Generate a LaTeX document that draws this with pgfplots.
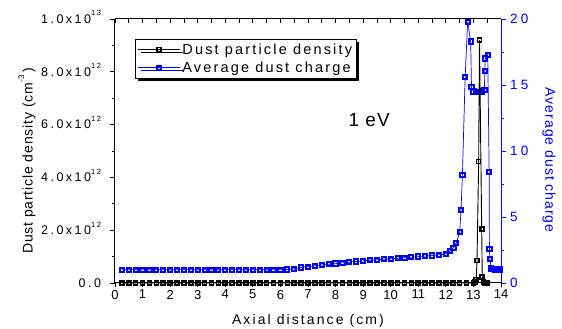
\documentclass[border=0pt]{standalone}
\usepackage{fontspec}
\setmainfont{Liberation Sans}
\usepackage{pgfplots}
\pgfplotsset{compat=1.18}
\usetikzlibrary{shadows}
\definecolor{oblue}{RGB}{0,0,255}
\newcommand{\fs}[2]{\fontsize{#1}{#1}\selectfont\addfontfeatures{LetterSpace=#2}}
\newcommand{\sci}[2]{#1x10\raisebox{0.6em}[0pt][0pt]{\fontsize{7.5}{7.5}\selectfont #2}}
\pgfplotstableread{
x y
0.25 1.0
0.5 1.0
0.75 1.0
1.0 1.0
1.25 1.0
1.5 1.0
1.75 1.0
2.0 1.0
2.25 1.0
2.5 1.0
2.75 1.0
3.0 1.0
3.25 1.0
3.5 1.0
3.75 1.0
4.0 1.0
4.25 1.0
4.5 1.0
4.75 1.0
5.0 1.0
5.25 1.0
5.5 1.0
5.75 1.0
6.0 1.0
6.25 1.03
6.5 1.08
6.75 1.17
7.0 1.24
7.25 1.30
7.5 1.36
7.75 1.42
8.0 1.47
8.25 1.53
8.5 1.58
8.75 1.63
9.0 1.68
9.25 1.72
9.5 1.76
9.75 1.80
10.0 1.84
10.25 1.88
10.5 1.92
10.75 1.96
11.0 2.00
11.25 2.04
11.5 2.08
11.75 2.14
12.0 2.22
12.15 2.42
12.28 2.68
12.38 3.05
12.5 3.85
12.55 5.5
12.6 8.2
12.7 15.6
12.79 19.8
12.9 18.3
12.93 14.85
13.0 14.5
13.08 14.45
13.16 14.45
13.24 14.45
13.32 14.5
13.4 14.6
13.41 16.05
13.43 17.0
13.52 17.3
13.57 8.4
13.58 2.55
13.6 1.84
13.64 1.1
13.72 1.05
13.8 1.03
13.88 1.02
13.95 1.02
}\chargetable
\pgfplotstableread{
x y
0.25 0
0.5 0
0.75 0
1.0 0
1.25 0
1.5 0
1.75 0
2.0 0
2.25 0
2.5 0
2.75 0
3.0 0
3.25 0
3.5 0
3.75 0
4.0 0
4.25 0
4.5 0
4.75 0
5.0 0
5.25 0
5.5 0
5.75 0
6.0 0
6.25 0
6.5 0
6.75 0
7.0 0
7.25 0
7.5 0
7.75 0
8.0 0
8.25 0
8.5 0
8.75 0
9.0 0
9.25 0
9.5 0
9.75 0
10.0 0
10.25 0
10.5 0
10.75 0
11.0 0
11.25 0
11.5 0
11.75 0
12.0 0
12.25 0
12.5 0
12.75 0
13.0 0
13.06 0.03e12
13.1 0.14e12
13.13 0.85e12
13.19 4.6e12
13.22 9.2e12
13.3 2.05e12
13.32 0.22e12
13.36 0.03e12
13.42 0
13.5 0
}\densitytable
\begin{document}
\begin{tikzpicture}
\pgfplotsset{
  common/.style={scale only axis, width=386pt, height=264pt, xmin=0, xmax=14,
    at={(0pt,0pt)}, anchor=south west,
    /pgf/number format/assume math mode=true,
    major tick length=4.5pt, minor tick length=2.5pt},
}
% right (blue) axis
\begin{axis}[common,
  axis y line*=right, axis x line=none,
  ymin=0, ymax=20, ytick={0,5,10,15,20}, minor ytick={2.5,7.5,12.5,17.5},
  tick align=outside,
  y axis line style={oblue, line width=1pt},
  tick style={oblue, line width=0.8pt},
  yticklabel style={text=oblue, font=\fs{13.5}{25}, xshift=1pt},
]
\addplot[oblue, line width=0.7pt, mark=square, mark size=2.1pt,
  mark options={line width=2pt, fill=white, solid}] table[x=x,y=y] {\chargetable};
\end{axis}
% top axis ticks
\begin{axis}[common, axis x line*=top, axis y line=none, ymin=0, ymax=1,
  xtick={0,0.5,...,14}, xticklabels={}, tick align=inside,
  x axis line style={black, line width=1pt},
  tick style={black, line width=0.8pt}]
\end{axis}
% left (black) axis
\begin{axis}[common, clip=false,
  axis x line*=bottom, axis y line*=left, tick align=outside,
  ymin=0, ymax=1e13, scaled y ticks=false,
  axis line style={black, line width=1pt},
  tick style={black, line width=0.8pt},
  xtick={0,...,14},
  ytick={0,2e12,4e12,6e12,8e12,1e13},
  minor ytick={1e12,3e12,5e12,7e12,9e12},
  yticklabels={0.0,\sci{2.0}{12},\sci{4.0}{12},\sci{6.0}{12},\sci{8.0}{12},\sci{1.0}{13}},
  xticklabel style={font=\fs{13}{0}, yshift=1pt},
  yticklabel style={font=\fs{12.5}{20}, xshift=-6pt},
  legend image code/.code={\draw[mark repeat=2,mark phase=2,#1] plot coordinates {(0pt,0pt) (21pt,0pt) (42pt,0pt)};},
  legend style={at={(axis description cs:0.052,0.925)}, anchor=north west,
    draw=black, line width=0.8pt, fill=white, font=\fs{14.5}{15},
    inner xsep=2pt, inner ysep=2.5pt, row sep=2pt,
    drop shadow={shadow xshift=3pt, shadow yshift=-3pt, fill=black, opacity=1}},
  legend cell align=left,
]
\addplot[black, line width=0.9pt, mark=square, mark size=2.0pt,
  mark options={line width=1.6pt, fill=white, solid}] table[x=x,y=y] {\densitytable};
\addlegendentry{Dust particle density}
\addlegendimage{oblue, line width=0.7pt, mark=square, mark size=2.1pt, mark options={line width=2pt, fill=white, solid}}
\addlegendentry{Average dust charge}
\node[font=\fs{19}{5}] at (axis cs:9.22,6.19e12) {1 eV};
\node[rotate=90, font=\fs{14}{6}] at (axis description cs:-0.228,0.462) {Dust particle density (cm\raisebox{0.6em}{\fontsize{8}{8}\selectfont -3}\,)};
\node[rotate=-90, text=oblue, font=\fs{14}{7}] at (axis description cs:1.1245,0.465) {Average dust charge};
\node[font=\fs{14}{15}] at (axis description cs:0.5,-0.144) {Axial distance (cm)};
\end{axis}
\pgfresetboundingbox
\path[use as bounding box] (-115pt,-46pt) rectangle (447pt,283pt);
\end{tikzpicture}
\end{document}
